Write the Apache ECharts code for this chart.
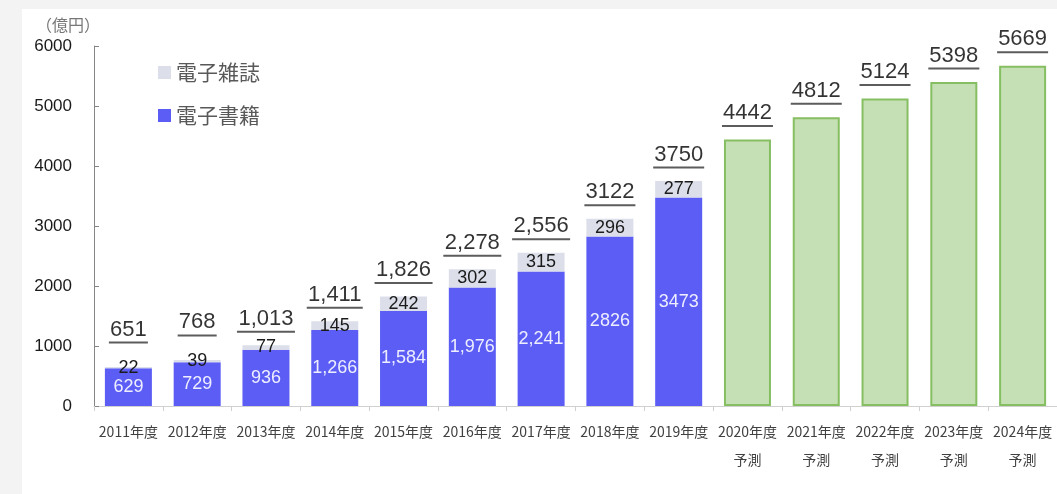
<!DOCTYPE html>
<html>
<head>
<meta charset="utf-8">
<script src="https://cdn.jsdelivr.net/npm/echarts@6/dist/echarts.min.js"></script>
<style>
html,body{margin:0;padding:0;background:#f3f3f3;}
#c{width:1057px;height:494px;}
</style>
</head>
<body>
<div id="c"></div>
<script>
// ---- data ----
var categories = ['2011年度','2012年度','2013年度','2014年度','2015年度','2016年度','2017年度','2018年度','2019年度','2020年度\n予測','2021年度\n予測','2022年度\n予測','2023年度\n予測','2024年度\n予測'];
var ebooks     = [629, 729, 936, 1266, 1584, 1976, 2241, 2826, 3473, null, null, null, null, null];
var ebookLabels = ['629','729','936','1,266','1,584','1,976','2,241','2826','3473','','','','',''];
var emagazines = [22, 39, 77, 145, 242, 302, 315, 296, 277, null, null, null, null, null];
var forecast   = [null, null, null, null, null, null, null, null, null, 4442, 4812, 5124, 5398, 5669];
var totals     = [651, 768, 1013, 1411, 1826, 2278, 2556, 3122, 3750, 4442, 4812, 5124, 5398, 5669];
var totalLabels = ['651','768','1,013','1,411','1,826','2,278','2,556','3122','3750','4442','4812','5124','5398','5669'];

var TOTAL_FONT = '22px "Liberation Sans"';
var measureCtx = document.createElement('canvas').getContext('2d');
measureCtx.font = TOTAL_FONT;
function textWidth(s){ return Math.ceil(measureCtx.measureText(s).width); }

var chart = echarts.init(document.getElementById('c'), null, {renderer:'canvas'});

var totalData = totals.map(function(v, i){
  var item = {value: v};
  if (emagazines[i] !== null && emagazines[i] < 60) {
    item.label = {distance: 23};
  }
  return item;
});

var option = {
  backgroundColor: '#f3f3f3',
  animation: false,
  graphic: [{
    type: 'rect', z: -10,
    shape: {x: 22, y: 9, width: 1040, height: 490},
    style: {fill: '#ffffff'}
  },{
    type: 'text', left: 36, top: 17,
    style: {text: '（億円）', fill: '#777', font: '16px "Noto Sans CJK JP"'}
  }],
  legend: {
    data: ['電子雑誌','電子書籍'],
    orient: 'vertical',
    left: 153, top: 57,
    itemWidth: 13, itemHeight: 13, itemGap: 22,
    icon: 'rect',
    textStyle: {fontSize: 21, color: '#595959', fontFamily: 'Noto Sans CJK JP'}
  },
  grid: {left: 94, top: 46, bottom: 88, width: 969, containLabel: false},
  xAxis: {
    type: 'category',
    data: categories,
    axisLine: {show: true, lineStyle: {color: '#d0d0d0'}},
    axisTick: {show: true, length: 5, lineStyle: {color: '#d0d0d0'}},
    axisLabel: {interval: 0, margin: 12, fontSize: 14, lineHeight: 28, color: '#404040', fontFamily: 'Noto Sans CJK JP'}
  },
  yAxis: {
    type: 'value', min: 0, max: 6000, interval: 1000,
    splitLine: {show: false},
    axisLine: {show: true, lineStyle: {color: '#868686'}},
    axisTick: {show: true, inside: true, length: 5, lineStyle: {color: '#868686'}},
    axisLabel: {margin: 22, fontSize: 17, color: '#1a1a1a', fontFamily: 'Liberation Sans',
      formatter: function(v){ return String(v); }}
  },
  series: [{
    name: '電子書籍', type: 'bar', stack: 'a', barWidth: 47,
    data: ebooks,
    itemStyle: {color: '#5b5df5'},
    label: {
      show: true, position: 'inside', fontSize: 18, color: '#eeeeff', fontFamily: 'Liberation Sans',
      formatter: function(p){ return ebookLabels[p.dataIndex]; }
    }
  },{
    name: '電子雑誌', type: 'bar', stack: 'a', barWidth: 47,
    data: emagazines,
    itemStyle: {color: '#dcdfea'},
    label: {show: true, position: 'inside', fontSize: 18, color: '#1a1a1a', fontFamily: 'Liberation Sans'}
  },{
    name: '予測', type: 'bar', stack: 'a', barWidth: 47,
    data: forecast,
    itemStyle: {color: '#c6e0b5', borderColor: '#86bf62', borderWidth: 2}
  },{
    name: '合計', type: 'scatter', symbolSize: 1,
    itemStyle: {color: 'rgba(0,0,0,0)'},
    data: totalData,
    label: {
      show: true, position: 'top', distance: 12,
      formatter: function(p){
        return '{v|' + totalLabels[p.dataIndex] + '}\n{u' + p.dataIndex + '|}';
      },
      rich: (function(){
        var r = {v: {fontSize: 22, lineHeight: 24, color: '#000000', fontFamily: 'Liberation Sans', align: 'center'}};
        totalLabels.forEach(function(t, i){
          r['u' + i] = {width: textWidth(t) + 2, height: 2, lineHeight: 2, backgroundColor: '#333333', align: 'center'};
        });
        return r;
      })()
    }
  }]
};
chart.setOption(option);
</script>
</body>
</html>
